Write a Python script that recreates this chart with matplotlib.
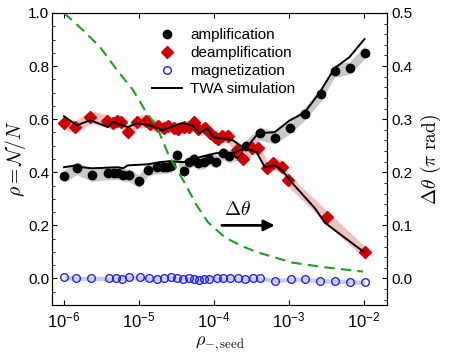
import numpy as np
import matplotlib.pyplot as plt
from matplotlib.ticker import MultipleLocator, LogLocator, NullLocator

plt.rcParams['font.family'] = ['Liberation Sans', 'DejaVu Sans']
plt.rcParams['mathtext.fontset'] = 'custom'
plt.rcParams['mathtext.rm'] = 'Liberation Sans'
plt.rcParams['mathtext.it'] = 'Liberation Sans:italic'
plt.rcParams['mathtext.bf'] = 'Liberation Sans:bold'
plt.rcParams['xtick.direction'] = 'in'
plt.rcParams['ytick.direction'] = 'in'

# seed populations given as log10 exponents
amp_logx = [-6.0, -5.83, -5.63, -5.41, -5.33, -5.28, -5.21, -5.13, -5.0, -4.88, -4.76, -4.68,
            -4.63, -4.57, -4.49, -4.40, -4.33, -4.27, -4.21, -4.13, -4.07, -3.97, -3.88, -3.80,
            -3.68, -3.57, -3.39, -3.19, -2.99, -2.79, -2.57, -2.39, -2.19, -1.99]
amp_y = [0.385, 0.415, 0.39, 0.396, 0.396, 0.396, 0.39, 0.389, 0.366, 0.41, 0.419, 0.419,
         0.42, 0.423, 0.464, 0.404, 0.438, 0.449, 0.434, 0.438, 0.45, 0.44, 0.472, 0.46,
         0.47, 0.498, 0.547, 0.53, 0.568, 0.62, 0.693, 0.782, 0.793, 0.85]

deamp_logx = [-6.0, -5.85, -5.65, -5.43, -5.35, -5.29, -5.24, -5.15, -5.03, -4.91, -4.85, -4.75,
              -4.67, -4.61, -4.53, -4.48, -4.40, -4.33, -4.27, -4.21, -4.12, -4.05, -3.99, -3.95,
              -3.89, -3.81, -3.69, -3.61, -3.49, -3.41, -3.29, -3.21, -3.09, -3.01, -2.49, -1.99]
deamp_y = [0.585, 0.57, 0.607, 0.594, 0.585, 0.594, 0.59, 0.55, 0.59, 0.594, 0.583, 0.574,
           0.567, 0.574, 0.567, 0.562, 0.57, 0.57, 0.59, 0.562, 0.566, 0.547, 0.532, 0.525,
           0.536, 0.536, 0.483, 0.449, 0.491, 0.491, 0.415, 0.434, 0.42, 0.37, 0.23, 0.098]

mag_logx = [-6.0, -5.84, -5.64, -5.4, -5.31, -5.23, -5.13, -4.99, -4.87, -4.76, -4.67, -4.57,
            -4.49, -4.41, -4.33, -4.27, -4.2, -4.13, -4.07, -3.96, -3.88, -3.79, -3.68, -3.59,
            -3.48, -3.39, -3.19, -2.97, -2.79, -2.59, -2.39, -2.19, -1.99]
mag_y = [0.004, 0.0, 0.0, 0.0, 0.001, -0.001, 0.004, 0.004, 0.0, -0.002, 0.002, 0.005,
         0.0, -0.001, 0.0, -0.002, -0.006, -0.001, -0.001, 0.001, 0.0, 0.002, 0.001, -0.002,
         0.0, 0.0, -0.008, -0.003, -0.003, -0.008, -0.01, -0.012, -0.015]

# TWA simulation
twa_amp_logx = [-6.0, -5.84, -5.76, -5.63, -5.28, -5.21, -5.15, -4.89, -4.72, -4.59, -4.41,
                -4.15, -3.97, -3.75, -3.56, -3.41, -3.19, -2.99, -2.79, -2.59, -2.39, -2.19, -1.99]
twa_amp_y = [0.419, 0.426, 0.419, 0.415, 0.419, 0.415, 0.426, 0.43, 0.438, 0.442, 0.438,
             0.46, 0.472, 0.472, 0.494, 0.547, 0.551, 0.595, 0.625, 0.70, 0.792, 0.834, 0.902]
twa_deamp_logx = [-6.0, -5.83, -5.65, -5.41, -5.35, -5.15, -5.03, -4.85, -4.69, -4.43, -4.29,
                  -4.19, -4.09, -4.01, -3.92, -3.75, -3.61, -3.43, -3.32, -3.19, -3.09, -2.95,
                  -2.65, -2.52, -2.01]
twa_deamp_y = [0.611, 0.577, 0.596, 0.57, 0.59, 0.57, 0.585, 0.577, 0.558, 0.585, 0.577,
               0.547, 0.566, 0.532, 0.528, 0.521, 0.494, 0.475, 0.419, 0.426, 0.408, 0.358,
               0.264, 0.21, 0.102]

# phase difference (right axis, units of pi rad)
dtheta_logx = [-6.0, -5.75, -5.52, -5.29, -5.08, -4.92, -4.76, -4.59, -4.41, -4.23, -4.08,
               -3.85, -3.61, -3.41, -2.96, -2.52, -2.01]
dtheta = [0.5, 0.468, 0.436, 0.392, 0.355, 0.317, 0.285, 0.228, 0.185, 0.138, 0.106,
          0.077, 0.06, 0.049, 0.03, 0.021, 0.013]

amp_err = 0.024
deamp_err = 0.024
mag_err = 0.008

fig = plt.figure(figsize=(4.5, 3.58), dpi=100)
ax = fig.add_axes([0.1156, 0.148, 0.7444, 0.8157])

x_amp = 10.0 ** np.array(amp_logx)
x_deamp = 10.0 ** np.array(deamp_logx)
x_mag = 10.0 ** np.array(mag_logx)

ax.fill_between(x_amp, np.array(amp_y) - amp_err, np.array(amp_y) + amp_err, color='#c8c8c8', lw=0)
ax.fill_between(x_deamp, np.array(deamp_y) - deamp_err, np.array(deamp_y) + deamp_err, color='#f3c0c0', lw=0)
ax.fill_between(x_mag, np.array(mag_y) - mag_err, np.array(mag_y) + mag_err, color='#cacaf6', lw=0)

ax.plot(x_amp, amp_y, 'o', color='k', ms=6, label='amplification')
ax.plot(x_deamp, deamp_y, 'D', color='#cc0000', ms=6.5, label='deamplification')
ax.plot(x_mag, mag_y, 'o', mfc='none', mec='#2222ee', mew=1, ms=5.5, label='magnetization')
ax.plot(10.0 ** np.array(twa_amp_logx), twa_amp_y, '-', color='k', lw=1.4, label='TWA simulation')
ax.plot(10.0 ** np.array(twa_deamp_logx), twa_deamp_y, '-', color='k', lw=1.4)

ax.set_xscale('log')
ax.set_xlim(10 ** -6.16, 10 ** -1.69)
ax.set_ylim(-0.1, 1.0)
ax.xaxis.set_major_locator(LogLocator(base=10, numticks=10))
ax.xaxis.set_minor_locator(NullLocator())
ax.yaxis.set_major_locator(MultipleLocator(0.2))
ax.yaxis.set_minor_locator(MultipleLocator(0.05))
ax.yaxis.set_major_formatter(plt.FormatStrFormatter('%.1f'))
ax.tick_params(which='both', top=True, right=False, labelsize=11)
ax.tick_params(axis='y', pad=2)
ax.tick_params(axis='x', labelsize=12, pad=4)
ax.tick_params(which='major', length=3.5)
ax.tick_params(which='minor', length=2)

ax.set_ylabel(r'$\rho = \mathcal{N}/N$', fontsize=14, math_fontfamily='cm', labelpad=0)
ax.set_xlabel(r'$\rho_{-,\mathrm{seed}}$', fontsize=13, math_fontfamily='cm', labelpad=3)

ax.legend(loc='upper left', bbox_to_anchor=(0.28, 0.968), frameon=False, fontsize=11,
          handlelength=2.0, handletextpad=0.5, labelspacing=0.25, borderaxespad=0)

ax2 = ax.twinx()
ax2.plot(10.0 ** np.array(dtheta_logx), dtheta, color='#1f9e1f', lw=1.5, ls=(0, (5, 3)))
ax2.set_ylim(-0.05, 0.5)
ax2.yaxis.set_major_locator(MultipleLocator(0.1))
ax2.yaxis.set_minor_locator(MultipleLocator(0.02))
ax2.yaxis.set_major_formatter(plt.FormatStrFormatter('%.1f'))
ax2.tick_params(which='both', labelsize=11)
ax2.tick_params(which='major', length=3.5)
ax2.tick_params(which='minor', length=2)
ax2.set_ylabel(r'$\Delta\theta\ (\pi\ \mathrm{rad})$', fontsize=14, math_fontfamily='cm', labelpad=4)

ax2.annotate('', xy=(10 ** -3.15, 0.1), xytext=(10 ** -3.93, 0.1),
             arrowprops=dict(arrowstyle='-|>', color='k', lw=2, mutation_scale=16))
ax2.text(10 ** -3.68, 0.112, r'$\Delta\theta$', fontsize=14, math_fontfamily='cm',
         ha='center', va='bottom')

plt.savefig('out.png', dpi=100)
